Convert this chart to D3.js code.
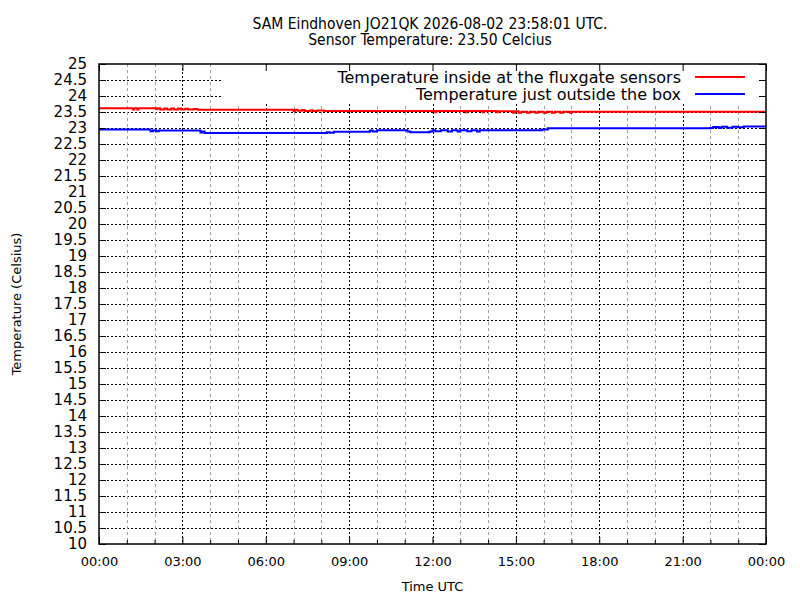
<!DOCTYPE html>
<html>
<head>
<meta charset="utf-8">
<script src="https://cdn.jsdelivr.net/npm/d3@7"></script>
<style>
  body { margin: 0; background: #fff; }
  text { font-family: "DejaVu Sans", sans-serif; fill: #000; }
  .title { font-family: "DejaVu Sans Condensed", "DejaVu Sans", sans-serif; font-stretch: condensed; }
</style>
</head>
<body>
<script>
// chart data (hours since 00:00 UTC, degrees C)
var titleLines = ["SAM Eindhoven JO21QK 2026-08-02 23:58:01 UTC.", "Sensor Temperature: 23.50 Celcius"];
var seriesNames = ["Temperature inside at the fluxgate sensors", "Temperature just outside the box"];
var seriesColors = ["#ff0000", "#0000ff"];

var insideHours = [0, 1.22, 1.26, 1.38, 1.42, 2.05, 2.1, 2.2, 2.35, 2.45, 2.6, 2.7, 2.85, 2.95, 3.1, 3.2, 3.4, 3.55, 7.0, 7.05, 7.15, 7.3, 7.4, 7.6, 7.7, 7.85, 8.1, 12.1, 12.14, 13.2, 13.24, 13.8, 13.84, 14.3, 14.34, 14.9, 14.98, 15.1, 15.2, 15.4, 15.5, 15.7, 15.8, 16.0, 16.1, 16.3, 16.4, 16.6, 16.7, 16.95, 17.0, 24];
var insideTemps = [23.62, 23.58, 23.62, 23.58, 23.62, 23.59, 23.62, 23.58, 23.61, 23.58, 23.61, 23.58, 23.61, 23.58, 23.6, 23.58, 23.59, 23.57, 23.53, 23.57, 23.54, 23.56, 23.53, 23.55, 23.53, 23.55, 23.53, 23.49, 23.53, 23.49, 23.53, 23.49, 23.53, 23.49, 23.52, 23.48, 23.52, 23.48, 23.51, 23.48, 23.51, 23.48, 23.51, 23.48, 23.51, 23.48, 23.51, 23.48, 23.51, 23.48, 23.51, 23.51];

var outsideHours = [0, 1.85, 1.95, 2.05, 2.15, 2.3, 3.65, 3.72, 3.8, 3.9, 8.2, 8.3, 8.45, 8.55, 9.75, 9.85, 10.0, 10.1, 11.1, 11.2, 11.9, 12.0, 12.1, 12.3, 12.55, 12.7, 12.9, 13.0, 13.25, 13.4, 13.6, 13.7, 14.0, 15.95, 16.15, 22.0, 22.1, 22.3, 22.4, 22.6, 22.8, 23.0, 23.2, 23.3, 24];
var outsideTemps = [22.95, 22.9, 22.93, 22.9, 22.92, 22.92, 22.86, 22.89, 22.84, 22.84, 22.87, 22.85, 22.88, 22.88, 22.92, 22.89, 22.93, 22.93, 22.89, 22.87, 22.89, 22.93, 22.9, 22.93, 22.89, 22.93, 22.89, 22.93, 22.9, 22.93, 22.89, 22.93, 22.93, 22.95, 22.99, 23.0, 23.03, 23.0, 23.04, 23.01, 23.04, 23.02, 23.05, 23.05, 23.05];

var xTickHours = [0, 3, 6, 9, 12, 15, 18, 21, 24];
var xTickLabels = ["00:00", "03:00", "06:00", "09:00", "12:00", "15:00", "18:00", "21:00", "00:00"];
var xMinorHours = [1, 2, 4, 5, 7, 8, 10, 11, 13, 14, 16, 17, 19, 20, 22, 23];
var yTicks = d3.range(10, 25.001, 0.5);

var svgWidth = 800, svgHeight = 600;
var margin = { top: 64, right: 34, bottom: 56, left: 99 };
var chartwidth = svgWidth - margin.left - margin.right;
var chartheight = svgHeight - margin.top - margin.bottom;

var svg = d3.select("body").append("svg")
  .attr("width", svgWidth)
  .attr("height", svgHeight);

var chartGroup = svg.append("g")
  .attr("transform", `translate(${margin.left}, ${margin.top})`);

var xScale = d3.scaleLinear().domain([0, 24]).range([0, chartwidth]);
var yScale = d3.scaleLinear().domain([10, 25]).range([chartheight, 0]);

// title
svg.selectAll(".title")
  .data(titleLines)
  .enter()
  .append("text")
  .attr("class", "title")
  .attr("x", 430)
  .attr("y", (d, i) => 29 + i * 16)
  .attr("text-anchor", "middle")
  .attr("font-size", "15.5px")
  .text(d => d);

// grid: horizontal every 0.5, vertical hourly
chartGroup.selectAll(".ygrid")
  .data(yTicks.slice(1, -1))
  .enter()
  .append("line")
  .attr("x1", 0).attr("x2", chartwidth)
  .attr("y1", d => yScale(d) + 0.5).attr("y2", d => yScale(d) + 0.5)
  .attr("stroke", "#000").attr("stroke-width", 1)
  .attr("stroke-dasharray", "2,2");

chartGroup.selectAll(".xminor")
  .data(xMinorHours)
  .enter()
  .append("line")
  .attr("x1", d => Math.round(xScale(d)) + 0.5).attr("x2", d => Math.round(xScale(d)) + 0.5)
  .attr("y1", 0).attr("y2", chartheight)
  .attr("stroke", "#a0a0a0").attr("stroke-width", 1)
  .attr("stroke-dasharray", "3,3");

chartGroup.selectAll(".xmajor")
  .data(xTickHours.slice(1, -1))
  .enter()
  .append("line")
  .attr("x1", d => Math.round(xScale(d)) + 0.5).attr("x2", d => Math.round(xScale(d)) + 0.5)
  .attr("y1", 0).attr("y2", chartheight)
  .attr("stroke", "#000").attr("stroke-width", 1)
  .attr("stroke-dasharray", "2,2");

// data lines
var insideData = insideHours.map((h, i) => ({ h: h, v: insideTemps[i] }));
var outsideData = outsideHours.map((h, i) => ({ h: h, v: outsideTemps[i] }));

var line = d3.line()
  .x(d => xScale(d.h))
  .y(d => yScale(d.v))
  .curve(d3.curveStepAfter);

[insideData, outsideData].forEach(function(data, i) {
  chartGroup.append("path")
    .datum(data)
    .attr("d", line)
    .attr("fill", "none")
    .attr("stroke", seriesColors[i])
    .attr("stroke-width", 2);
});

// legend box (opaque, hides grid behind it)
var legend = chartGroup.append("g");
legend.append("rect")
  .attr("x", 123).attr("y", 1)
  .attr("width", chartwidth - 131).attr("height", 38)
  .attr("fill", "#fff");

var legendItems = legend.selectAll(".legends")
  .data(seriesNames)
  .enter()
  .append("g")
  .attr("transform", (d, i) => `translate(0, ${13 + i * 17})`);

legendItems.append("text")
  .attr("x", 582)
  .attr("dy", "0.35em")
  .attr("text-anchor", "end")
  .attr("font-size", "16px")
  .text(d => d);

legendItems.append("line")
  .attr("x1", 596).attr("x2", 646)
  .attr("y1", 0).attr("y2", 0)
  .attr("stroke", (d, i) => seriesColors[i])
  .attr("stroke-width", 2);

// axes with inward ticks, mirrored on top/right
var leftAxis = d3.axisLeft(yScale).tickValues(yTicks).tickSize(-7).tickPadding(12)
  .tickFormat(d => d3.format("")(d));
var rightAxis = d3.axisRight(yScale).tickValues(yTicks).tickSize(-7).tickFormat("");
var bottomAxis = d3.axisBottom(xScale).tickValues(xTickHours).tickSize(-7).tickPadding(13)
  .tickFormat((d, i) => xTickLabels[i]);
var bottomMinor = d3.axisBottom(xScale).tickValues(xMinorHours).tickSize(-4).tickFormat("");
var topAxis = d3.axisTop(xScale).tickValues(xTickHours).tickSize(-7).tickFormat("");

var gLeft = chartGroup.append("g").call(leftAxis);
gLeft.selectAll("text").attr("font-size", "15px").attr("font-family", "DejaVu Sans");

chartGroup.append("g").attr("transform", `translate(${chartwidth}, 0)`).call(rightAxis);

var gBottom = chartGroup.append("g").attr("transform", `translate(0, ${chartheight})`).call(bottomAxis);
gBottom.selectAll("text").attr("font-size", "13px").attr("font-family", "DejaVu Sans");
chartGroup.append("g").attr("transform", `translate(0, ${chartheight})`).call(bottomMinor);
chartGroup.append("g").call(topAxis);

chartGroup.selectAll(".domain").remove();

// frame
chartGroup.append("rect")
  .attr("x", 0).attr("y", 0)
  .attr("width", chartwidth).attr("height", chartheight)
  .attr("fill", "none")
  .attr("stroke", "#000")
  .attr("stroke-width", 1.5);

// axis labels
chartGroup.append("text")
  .attr("transform", "rotate(-90)")
  .attr("x", 0 - (chartheight / 2))
  .attr("y", 16 - margin.left)
  .attr("dy", "0.35em")
  .attr("text-anchor", "middle")
  .attr("font-size", "13px")
  .text("Temperature (Celsius)");

chartGroup.append("text")
  .attr("x", chartwidth / 2)
  .attr("y", chartheight + 42)
  .attr("dy", "0.35em")
  .attr("text-anchor", "middle")
  .attr("font-size", "13px")
  .text("Time UTC");
</script>
</body>
</html>
